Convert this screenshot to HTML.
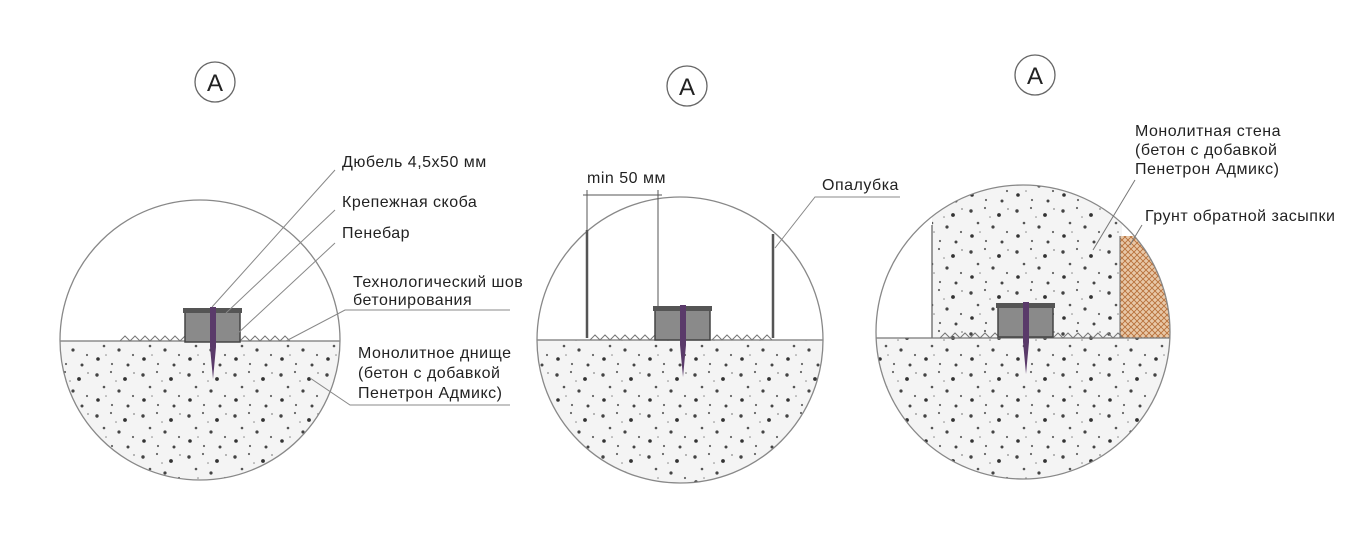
<!DOCTYPE html>
<html><head><meta charset="utf-8"><style>
html,body{margin:0;padding:0;background:#fff;}
svg{display:block;}
text{font-family:"Liberation Sans",sans-serif;font-size:16px;letter-spacing:0.5px;fill:#222;}
</style></head><body>
<svg width="1360" height="546" viewBox="0 0 1360 546">
<defs>
<pattern id="conc" width="46" height="41" patternUnits="userSpaceOnUse">
<rect width="46" height="41" fill="#f4f4f4"/>
<circle cx="5" cy="6" r="1.7" fill="#444"/><circle cx="19" cy="3" r="1.1" fill="#666"/>
<circle cx="33" cy="10" r="1.9" fill="#333"/><circle cx="12" cy="18" r="1.3" fill="#555"/>
<circle cx="27" cy="22" r="1.6" fill="#444"/><circle cx="41" cy="27" r="1.1" fill="#666"/>
<circle cx="6" cy="31" r="1.8" fill="#333"/><circle cx="20" cy="36" r="1.1" fill="#666"/>
<circle cx="36" cy="37" r="1.5" fill="#444"/><circle cx="42" cy="4" r="0.9" fill="#888"/>
<circle cx="24" cy="12" r="0.8" fill="#888"/><circle cx="14" cy="27" r="0.8" fill="#888"/>
</pattern>
<pattern id="hatch" width="6" height="6" patternUnits="userSpaceOnUse">
<rect width="6" height="6" fill="#e8c8a8"/>
<path d="M0 6L6 0M0 0L6 6" stroke="#b8703a" stroke-width="0.9"/>
</pattern>
<clipPath id="c1"><circle cx="200" cy="340" r="140"/></clipPath>
<clipPath id="c2"><circle cx="680" cy="340" r="143"/></clipPath>
<clipPath id="c3"><circle cx="1023" cy="332" r="147"/></clipPath>
<g id="dev">
<rect x="0" y="0" width="55" height="31" fill="#8a8a8a" stroke="#444" stroke-width="1.5"/>
<rect x="-2" y="-3" width="59" height="5" fill="#555"/>
<path d="M25 -4h6v40l-3 32l-3 -32z" fill="#5a3a6a"/>
</g>
</defs>
<g fill="none" stroke="#666" stroke-width="1.3">
<circle cx="215" cy="82" r="20"/><circle cx="687" cy="86" r="20"/><circle cx="1035" cy="75" r="20"/>
</g>
<text x="215" y="91" text-anchor="middle" style="font-size:24px;letter-spacing:0">A</text>
<text x="687" y="95" text-anchor="middle" style="font-size:24px;letter-spacing:0">A</text>
<text x="1035" y="84" text-anchor="middle" style="font-size:24px;letter-spacing:0">A</text>

<!-- circle 1 -->
<g clip-path="url(#c1)">
<rect x="50" y="341" width="300" height="160" fill="url(#conc)"/>
<line x1="50" y1="341" x2="350" y2="341" stroke="#777" stroke-width="1.2"/>
<path d="M120 341l5-5 5 5 5-5 5 5 5-5 5 5 5-5 5 5 5-5 5 5 5-5 5 5 5-5 5 5M240 341l5-5 5 5 5-5 5 5 5-5 5 5 5-5 5 5 5-5 5 5" fill="none" stroke="#777"/>
<use href="#dev" x="185" y="311"/>
</g>
<circle cx="200" cy="340" r="140" fill="none" stroke="#888" stroke-width="1.3"/>
<g stroke="#888" stroke-width="1">
<line x1="212" y1="307" x2="335" y2="170"/>
<line x1="226" y1="313" x2="335" y2="210"/>
<line x1="236" y1="335" x2="335" y2="243"/>
<polyline points="286,341 345,310 510,310" fill="none"/>
<polyline points="310,378 350,405 510,405" fill="none"/>
</g>
<text x="342" y="167">Дюбель 4,5x50 мм</text>
<text x="342" y="207">Крепежная скоба</text>
<text x="342" y="238">Пенебар</text>
<text x="353" y="287">Технологический шов</text>
<text x="353" y="305">бетонирования</text>
<text x="358" y="358">Монолитное днище</text>
<text x="358" y="378">(бетон с добавкой</text>
<text x="358" y="398">Пенетрон Адмикс)</text>

<!-- circle 2 -->
<g clip-path="url(#c2)">
<rect x="530" y="340" width="300" height="160" fill="url(#conc)"/>
<line x1="530" y1="340" x2="830" y2="340" stroke="#777" stroke-width="1.2"/>
<path d="M590 340l5-5 5 5 5-5 5 5 5-5 5 5 5-5 5 5 5-5 5 5 5-5 5 5 5-5 5 5M712 340l5-5 5 5 5-5 5 5 5-5 5 5 5-5 5 5 5-5 5 5 5-5 5 5" fill="none" stroke="#777"/>
<use href="#dev" x="655" y="309"/>
</g>
<circle cx="680" cy="340" r="143" fill="none" stroke="#888" stroke-width="1.3"/>
<g stroke="#555">
<line x1="587" y1="230" x2="587" y2="338" stroke-width="2.5"/>
<line x1="773" y1="234" x2="773" y2="338" stroke-width="2.5"/>
<line x1="587" y1="190" x2="587" y2="230" stroke-width="1"/>
<line x1="658" y1="190" x2="658" y2="310" stroke-width="1"/>
<line x1="583" y1="195" x2="662" y2="195" stroke-width="1"/>
<polyline points="775,248 815,197 900,197" fill="none" stroke="#888" stroke-width="1"/>
</g>
<text x="587" y="183">min 50 мм</text>
<text x="822" y="190">Опалубка</text>

<!-- circle 3 -->
<g clip-path="url(#c3)">
<rect x="870" y="338" width="310" height="160" fill="url(#conc)"/>
<rect x="932" y="180" width="190" height="158" fill="url(#conc)"/>
<rect x="1120" y="236" width="60" height="102" fill="url(#hatch)"/>
<line x1="932" y1="225" x2="932" y2="338" stroke="#666" stroke-width="1.3"/>
<line x1="1120" y1="236" x2="1120" y2="338" stroke="#666" stroke-width="1"/>
<line x1="870" y1="338" x2="1180" y2="338" stroke="#777" stroke-width="1.2"/>
<path d="M940 338l5-5 5 5 5-5 5 5 5-5 5 5 5-5 5 5 5-5 5 5 5-5 5 5M1053 338l5-5 5 5 5-5 5 5 5-5 5 5 5-5 5 5 5-5 5 5 5-5 5 5 5-5 5 5" fill="none" stroke="#777"/>
<use href="#dev" x="998" y="306"/>
</g>
<circle cx="1023" cy="332" r="147" fill="none" stroke="#888" stroke-width="1.3"/>
<line x1="1093" y1="250" x2="1135" y2="180" stroke="#777" stroke-width="1"/>
<line x1="1130" y1="245" x2="1142" y2="225" stroke="#777" stroke-width="1"/>
<text x="1135" y="136">Монолитная стена</text>
<text x="1135" y="155">(бетон с добавкой</text>
<text x="1135" y="174">Пенетрон Адмикс)</text>
<text x="1145" y="221">Грунт обратной засыпки</text>
</svg>
</body></html>
